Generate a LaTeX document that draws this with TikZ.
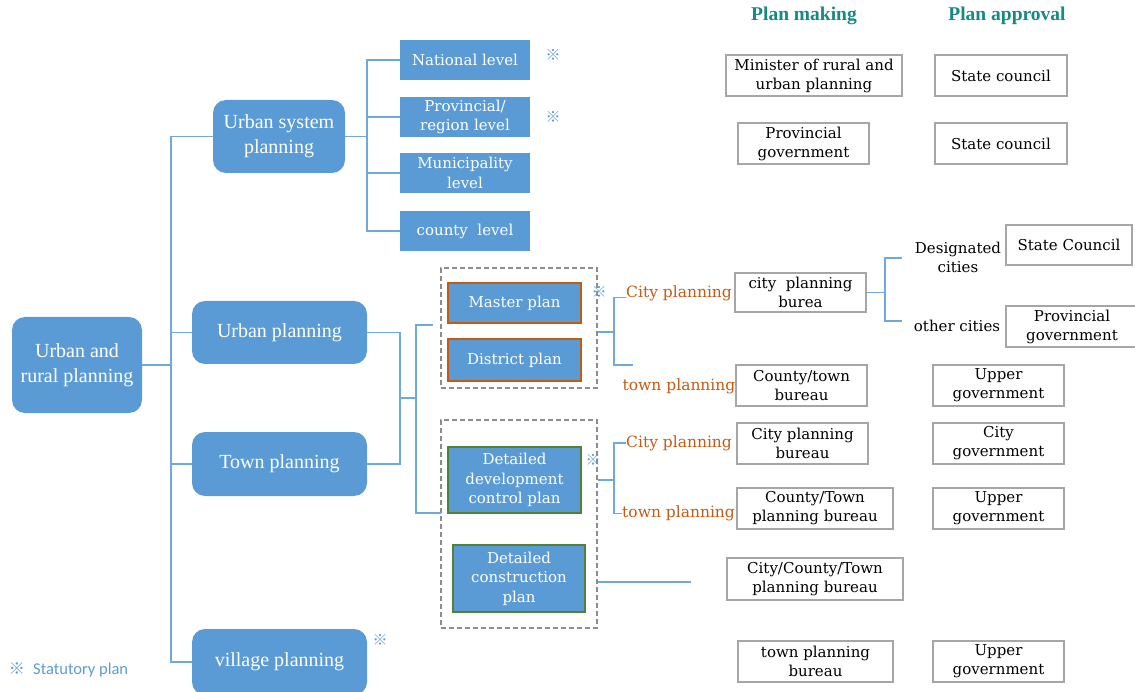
\documentclass[tikz,border=0pt]{standalone}
\usepackage{fontspec}
\setmainfont{DejaVu Serif}
\newfontfamily\didot{Liberation Serif}
\newfontfamily\cjkmark{Noto Sans CJK SC}
\newfontfamily\legendfont{Carlito}

\definecolor{planblue}{HTML}{5B9BD5}
\definecolor{linkblue}{HTML}{6FA8DC}
\definecolor{boxgray}{HTML}{A6A6A6}
\definecolor{dashgray}{HTML}{8C8C8C}
\definecolor{orangetext}{HTML}{C55A11}
\definecolor{headteal}{HTML}{168A82}
\definecolor{greenedge}{HTML}{548235}

\tikzset{
  wh/.style 2 args={minimum width=#1pt, minimum height=#2pt},
  level/.style={rounded corners=13pt, fill=planblue, text=white, align=center,
    inner sep=0pt, font=\didot\fontsize{20}{25}\selectfont},
  tier/.style={fill=planblue, text=white, align=center, inner sep=0pt,
    font=\fontsize{15}{19.5}\selectfont},
  plantype/.style={tier, line width=2.4pt},
  office/.style={draw=boxgray, line width=1.1pt, fill=white, align=center,
    inner sep=0pt, font=\fontsize{15}{19}\selectfont},
  grouping/.style={draw=dashgray, line width=1.1pt, dash pattern=on 5pt off 3pt,
    inner sep=0pt},
  link/.style={draw=linkblue, line width=1.2pt},
  refmark/.style={text=planblue, inner sep=0pt, font=\cjkmark\fontsize{15}{15}\selectfont},
  kind/.style={text=orangetext, inner sep=0pt, font=\fontsize{15.5}{19}\selectfont},
  note/.style={inner sep=0pt, align=center, font=\fontsize{15}{19}\selectfont},
  header/.style={text=headteal, inner sep=0pt, font=\didot\bfseries\fontsize{19.5}{22}\selectfont},
}

\begin{document}
\begin{tikzpicture}[x=1pt, y=-1pt]
\useasboundingbox (0,0) rectangle (1135,692);

% main hierarchy
\node[level, wh={130}{96}] (root) at (77,365) {Urban and\\rural planning};
\node[level, wh={132}{73}] (usys) at (279,136.5) {Urban system\\planning};
\node[level, wh={175}{63}] (urban) at (279.5,332.5) {Urban planning};
\node[level, wh={175}{64}] (town) at (279.5,464) {Town planning};
\node[level, wh={175}{66}] (village) at (279.5,662) {village planning};

% urban system levels
\node[tier, wh={130}{40}] (national) at (465,60) {National level};
\node[tier, wh={130}{40}] (province) at (465,117) {Provincial/\\region level};
\node[tier, wh={130}{40}] (municipal) at (465,173) {Municipality\\level};
\node[tier, wh={130}{40}] (county) at (465,231) {county\ \ level};

% plan groups
\node[grouping, wh={156}{120}] (g1) at (519,328) {};
\node[grouping, wh={156}{208}] (g2) at (519,524) {};
\node[plantype, draw=orangetext, wh={133}{40}] (master) at (514.5,303) {Master plan};
\node[plantype, draw=orangetext, wh={133}{42}] (district) at (514.5,360) {District plan};
\node[plantype, draw=greenedge, wh={133}{66}] (ddcp) at (514.5,480) {Detailed\\development\\control plan};
\node[plantype, draw=greenedge, wh={132}{67}] (dcp) at (519,578.5) {Detailed\\construction\\plan};

% statutory marks
\node[refmark] (m1) at (553,55) {※};
\node[refmark] (m2) at (553,117) {※};
\node[refmark] (m3) at (599,292) {※};
\node[refmark] (m4) at (593,460) {※};
\node[refmark] (m5) at (380,640) {※};

% planning kinds
\node[kind, anchor=west] (cityA) at (626,293) {City planning};
\node[kind] (townA) at (679,386) {town planning};
\node[kind, anchor=west] (cityB) at (626,443) {City planning};
\node[kind, anchor=west] (townB) at (622,513.5) {town planning};

% column headers
\node[header] (hmake) at (804,16) {Plan making};
\node[header] (happrove) at (1007,16) {Plan approval};

% plan making bodies
\node[office, wh={176}{41}] (minister) at (814,75.5) {Minister of rural and\\urban planning};
\node[office, wh={131}{41}] (provgov) at (803.5,143.5) {Provincial\\government};
\node[office, wh={131}{39}] (cpb) at (800.5,292.5) {city\ \ planning\\burea};
\node[office, wh={131}{41}] (ctb) at (801.5,385.5) {County/town\\bureau};
\node[office, wh={131}{41}] (cpb2) at (802.5,443.5) {City planning\\bureau};
\node[office, wh={156}{41}] (ctpb) at (815,508.5) {County/Town\\planning bureau};
\node[office, wh={176}{42}] (cctpb) at (815,579) {City/County/Town\\planning bureau};
\node[office, wh={155}{41}] (tpb) at (815.5,661.5) {town planning\\bureau};

% plan approval bodies
\node[office, wh={132}{41}] (sc1) at (1001,75.5) {State council};
\node[office, wh={132}{41}] (sc2) at (1001,143.5) {State council};
\node[office, wh={126}{40}] (scc) at (1069,245) {State Council};
\node[office, wh={132}{41}] (provgov2) at (1072,326.5) {Provincial\\government};
\node[office, wh={131}{41}] (up1) at (998.5,385.5) {Upper\\government};
\node[office, wh={131}{41}] (citygov) at (998.5,443.5) {City\\government};
\node[office, wh={131}{41}] (up2) at (998.5,508.5) {Upper\\government};
\node[office, wh={131}{41}] (up3) at (998.5,661.5) {Upper\\government};

% city categories
\node[note] (designated) at (958,257.5) {Designated\\cities};
\node[note] (other) at (957,326) {other cities};

% legend
\node[refmark, font=\cjkmark\fontsize{16}{16}\selectfont] (lmark) at (17,669) {※};
\node[inner sep=0pt, anchor=west, text=planblue, font=\legendfont\fontsize{16.5}{18}\selectfont]
  (legend) at (33,670) {Statutory plan};

% junction points
\coordinate (trunk) at (171,365);
\coordinate (sysfork) at (367,136.5);
\coordinate (umerge) at (400,398);
\coordinate (gsplit) at (416,398);
\coordinate (g1tip) at (433,325);
\coordinate (g2in) at (441,513);
\coordinate (f1) at (614,332);
\coordinate (f1end) at (633,365);
\coordinate (f2) at (614,480);
\coordinate (c1) at (691,582);
\coordinate (f3) at (885,292.5);
\coordinate (f3top) at (902,258);
\coordinate (f3bot) at (902,321);

% connectors
\draw[link] (root.east) -- (trunk);
\draw[link] (usys.west) -| (trunk);
\draw[link] (urban.west) -| (trunk);
\draw[link] (town.west) -| (trunk);
\draw[link] (village.west) -| (trunk);

\draw[link] (usys.east) -- (sysfork);
\draw[link] (national.west) -| (sysfork);
\draw[link] (province.west) -| (sysfork);
\draw[link] (municipal.west) -| (sysfork);
\draw[link] (county.west) -| (sysfork);

\draw[link] (urban.east) -| (umerge);
\draw[link] (town.east) -| (umerge);
\draw[link] (umerge) -- (gsplit);
\draw[link] (g1tip) -| (gsplit);
\draw[link] (g2in) -| (gsplit);

\draw[link] (g1.east |- f1) -- (f1);
\draw[link] (cityA.base west) -| (f1);
\draw[link] (f1end) -| (f1);

\draw[link] (g2.east |- f2) -- (f2);
\draw[link] (cityB.west) -| (f2);
\draw[link] (townB.west) -| (f2);

\draw[link] (g2.east |- c1) -- (c1);

\draw[link] (cpb.east) -- (f3);
\draw[link] (f3top) -| (f3);
\draw[link] (f3bot) -| (f3);
\end{tikzpicture}
\end{document}
